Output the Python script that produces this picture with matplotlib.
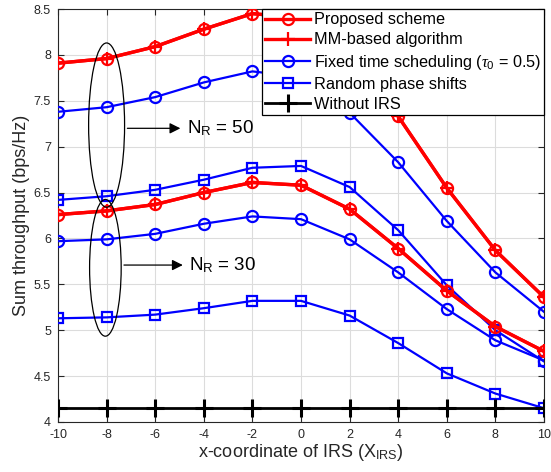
import matplotlib
matplotlib.use("Agg")
import matplotlib.pyplot as plt
from matplotlib.patches import Ellipse

plt.rcParams['font.family'] = ['Liberation Sans', 'DejaVu Sans']
plt.rcParams['mathtext.fontset'] = 'custom'
plt.rcParams['mathtext.it'] = 'Liberation Serif:italic'
plt.rcParams['mathtext.rm'] = 'Liberation Sans'
plt.rcParams['axes.unicode_minus'] = False

x = [-10, -8, -6, -4, -2, 0, 2, 4, 6, 8, 10]

# N_R = 50
proposed_50 = [7.91, 7.96, 8.09, 8.28, 8.45, 8.40, 7.95, 7.33, 6.55, 5.87, 5.36]
mm_50 = [7.91, 7.96, 8.09, 8.28, 8.45, 8.40, 7.95, 7.33, 6.55, 5.87, 5.36]
fixed_50 = [7.38, 7.43, 7.54, 7.70, 7.82, 7.76, 7.37, 6.83, 6.19, 5.63, 5.20]
random_50 = [6.42, 6.46, 6.53, 6.64, 6.77, 6.79, 6.56, 6.09, 5.49, 5.00, 4.66]

# N_R = 30
proposed_30 = [6.26, 6.30, 6.37, 6.50, 6.61, 6.58, 6.32, 5.89, 5.43, 5.04, 4.77]
mm_30 = [6.26, 6.30, 6.37, 6.50, 6.61, 6.58, 6.32, 5.89, 5.43, 5.04, 4.77]
fixed_30 = [5.97, 5.99, 6.05, 6.16, 6.24, 6.21, 5.99, 5.63, 5.23, 4.89, 4.67]
random_30 = [5.13, 5.14, 5.17, 5.24, 5.32, 5.32, 5.16, 4.86, 4.53, 4.31, 4.15]

without_irs = [4.155] * 11

labels = ["Proposed scheme", "MM-based algorithm",
          r"Fixed time scheduling ($\tau_0$ = 0.5)",
          "Random phase shifts", "Without IRS"]

fig = plt.figure(figsize=(5.51, 4.72), dpi=100)
ax = fig.add_axes([58/551, 1 - 422/472, (544-58)/551, (422-9)/472])

red = '#ff0000'
blue = '#0000ff'
lw_r = 2.4
lw_b = 1.6
ms_c = 8
mew = 1.6

# N_R = 50
h1, = ax.plot(x, proposed_50, color=red, lw=lw_r, marker='o', ms=ms_c, mfc='none', mew=mew, zorder=5)
h2, = ax.plot(x, mm_50, color=red, lw=lw_r, marker='+', ms=10, mew=mew, zorder=6)
h3, = ax.plot(x, fixed_50, color=blue, lw=lw_b, marker='o', ms=ms_c, mfc='none', mew=mew, zorder=4)
h4, = ax.plot(x, random_50, color=blue, lw=lw_b, marker='s', ms=7, mfc='none', mew=mew, zorder=4)
# N_R = 30
ax.plot(x, proposed_30, color=red, lw=lw_r, marker='o', ms=ms_c, mfc='none', mew=mew, zorder=5)
ax.plot(x, mm_30, color=red, lw=lw_r, marker='+', ms=10, mew=mew, zorder=6)
ax.plot(x, fixed_30, color=blue, lw=lw_b, marker='o', ms=ms_c, mfc='none', mew=mew, zorder=4)
ax.plot(x, random_30, color=blue, lw=lw_b, marker='s', ms=7, mfc='none', mew=mew, zorder=4)
h5, = ax.plot(x, without_irs, color='black', lw=2.0, marker='+', ms=13, mew=2.2, zorder=4)

ax.set_xlim(-10, 10)
ax.set_ylim(4, 8.5)
ax.set_xticks(x)
ax.set_yticks([4, 4.5, 5, 5.5, 6, 6.5, 7, 7.5, 8, 8.5])
ax.set_yticklabels(['4', '4.5', '5', '5.5', '6', '6.5', '7', '7.5', '8', '8.5'])
ax.grid(True, color='#dcdcdc', lw=0.8)
ax.set_axisbelow(True)
ax.tick_params(direction='in', top=True, right=True, labelsize=9, colors='#262626', length=4)
ax.tick_params(axis='x', pad=5)
ax.tick_params(axis='y', pad=5)
for s in ax.spines.values():
    s.set_color('#262626')
    s.set_linewidth(0.8)

ax.set_xlabel(r"x-coordinate of IRS (X$_{\mathrm{IRS}}$)", fontsize=13, color='#262626', labelpad=1)
ax.set_ylabel("Sum throughput (bps/Hz)", fontsize=13, color='#262626', labelpad=3)

# Ellipses and annotations
e1 = Ellipse((-8.0, 7.235), 1.48, 1.79, fill=False, color='black', lw=0.9, zorder=7)
e2 = Ellipse((-8.05, 5.68), 1.30, 1.49, fill=False, color='black', lw=0.9, zorder=7)
ax.add_patch(e1)
ax.add_patch(e2)
ax.annotate('', xy=(-4.85, 7.2), xytext=(-7.26, 7.2),
            arrowprops=dict(arrowstyle='-|>', color='black', lw=0.9, mutation_scale=16), zorder=8)
ax.annotate('', xy=(-4.75, 5.71), xytext=(-7.4, 5.71),
            arrowprops=dict(arrowstyle='-|>', color='black', lw=0.9, mutation_scale=16), zorder=8)
ax.text(-4.7, 7.2, r"N$_{\mathrm{R}}$ = 50", fontsize=13.5, va='center', ha='left')
ax.text(-4.6, 5.71, r"N$_{\mathrm{R}}$ = 30", fontsize=13.5, va='center', ha='left')

leg = ax.legend([h1, h2, h3, h4, h5], labels, loc='upper right', bbox_to_anchor=(1.0, 1.0),
                borderaxespad=0, fancybox=False, framealpha=1, edgecolor='black',
                fontsize=11.7, handlelength=2.8, handletextpad=0.2, labelspacing=0.32,
                borderpad=0.2)
leg.get_frame().set_linewidth(0.9)
leg.set_zorder(10)

fig.savefig('out.png', dpi=100)
